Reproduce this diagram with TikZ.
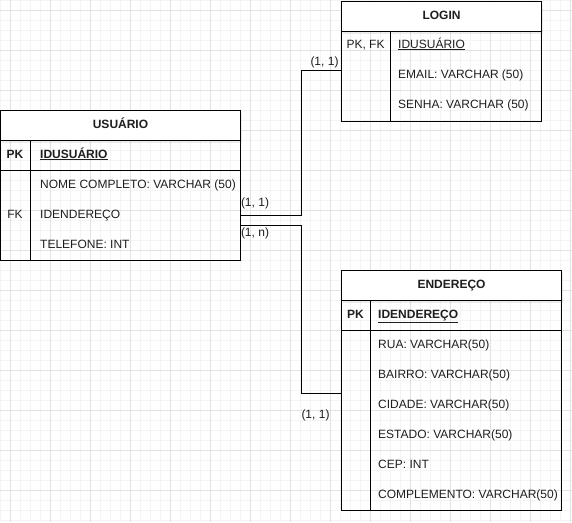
\documentclass[tikz,border=0pt]{standalone}
\usepackage{fontspec}
\setmainfont{Liberation Sans}
\usetikzlibrary{positioning, calc, shadows}
\definecolor{gridmajor}{HTML}{E2E2E2}
\definecolor{gridminor}{HTML}{F4F4F4}
\definecolor{ertext}{HTML}{1E1E1E}

\begin{document}
\begin{tikzpicture}[
    x=1pt, y=-1pt,
    every node/.style={font=\fontsize{12}{14}\selectfont, text=ertext, inner sep=0pt,
                       text height=9pt, text depth=3pt},
    entity/.style={draw, line width=1pt, anchor=north west, text height=, text depth=},
    title/.style={entity, fill=white, minimum height=30pt, font=\fontsize{12}{14}\selectfont\bfseries,
                  text height=9pt, text depth=3pt,
                  drop shadow={shadow xshift=1.5pt, shadow yshift=-2pt, opacity=0.15}},
    rule/.style={line width=1pt},
    key/.style={anchor=center},
    attr/.style={anchor=west},
    card/.style={anchor=center},
    link/.style={line width=1pt}
  ]
    \useasboundingbox (0,0) rectangle (572,522);
    % grid
    \foreach \gx in {0,10,...,570} \draw[gridminor] (\gx,0) -- (\gx,522);
    \foreach \gy in {0,10,...,520} \draw[gridminor] (0,\gy) -- (572,\gy);
    \foreach \gx in {10,50,...,570} \draw[gridmajor] (\gx,0) -- (\gx,522);
    \foreach \gy in {10,50,...,490} \draw[gridmajor] (0,\gy) -- (572,\gy);

    % USUARIO
    \node[entity, minimum width=240pt, minimum height=150pt] (usuario) at (0,110) {};
    \node[title, minimum width=240pt] (usuario-title) at (0,110) {USUÁRIO};
    \draw[rule] (0,170) -- (240,170);
    \draw[rule] (30,140) -- (30,260);
    \node[key, font=\fontsize{12}{14}\selectfont\bfseries] (usuario-pk) at (15,155) {PK};
    \node[attr, font=\fontsize{12}{14}\selectfont\bfseries] (usuario-id) at (40,155) {\underline{IDUSUÁRIO}};
    \node[attr] (usuario-nome) at (40,185) {NOME COMPLETO: VARCHAR (50)};
    \node[key] (usuario-fk) at (15,215) {FK};
    \node[attr] (usuario-end) at (40,215) {IDENDEREÇO};
    \node[attr] (usuario-tel) at (40,245) {TELEFONE: INT};

    % LOGIN
    \node[entity, minimum width=200pt, minimum height=120pt] (login) at (341,1) {};
    \node[title, minimum width=200pt] (login-title) at (341,1) {LOGIN};
    \draw[rule] (390,31) -- (390,121);
    \node[key] (login-pk) at (365.5,45) {PK, FK};
    \node[attr] (login-id) at (398,45) {\underline{IDUSUÁRIO}};
    \node[attr] (login-email) at (398,75) {EMAIL: VARCHAR (50)};
    \node[attr] (login-senha) at (398,105) {SENHA: VARCHAR (50)};

    % ENDERECO
    \node[entity, minimum width=220pt, minimum height=240pt] (endereco) at (341,270) {};
    \node[title, minimum width=220pt] (endereco-title) at (341,270) {ENDEREÇO};
    \draw[rule] (341,330) -- (561,330);
    \draw[rule] (370,300) -- (370,510);
    \node[key, font=\fontsize{12}{14}\selectfont\bfseries] (endereco-pk) at (355.5,315) {PK};
    \node[attr, font=\fontsize{12}{14}\selectfont\bfseries] (endereco-id) at (378,315) {\underline{IDENDEREÇO}};
    \node[attr] (endereco-rua) at (378,345) {RUA: VARCHAR(50)};
    \node[attr] (endereco-bairro) at (378,375) {BAIRRO: VARCHAR(50)};
    \node[attr] (endereco-cidade) at (378,405) {CIDADE: VARCHAR(50)};
    \node[attr] (endereco-estado) at (378,435) {ESTADO: VARCHAR(50)};
    \node[attr] (endereco-cep) at (378,465) {CEP: INT};
    \node[attr] (endereco-compl) at (378,495) {COMPLEMENTO: VARCHAR(50)};

    % relationships
    \draw[link] (usuario.east |- usuario-end) -- (301,215) |- ([yshift=5pt]login.west |- login-email);
    \draw[link] ([yshift=-10pt]usuario.east |- usuario-end) -- (301,225) |- ([yshift=12pt]endereco.west |- endereco-cidade);

    \node[card] (card-ul) at (255,203) {(1, 1)};
    \node[card] (card-lu) at (324.5,62) {(1, 1)};
    \node[card] (card-ue) at (255,233) {(1, n)};
    \node[card] (card-eu) at (315.5,415) {(1, 1)};
  \end{tikzpicture}
\end{document}
